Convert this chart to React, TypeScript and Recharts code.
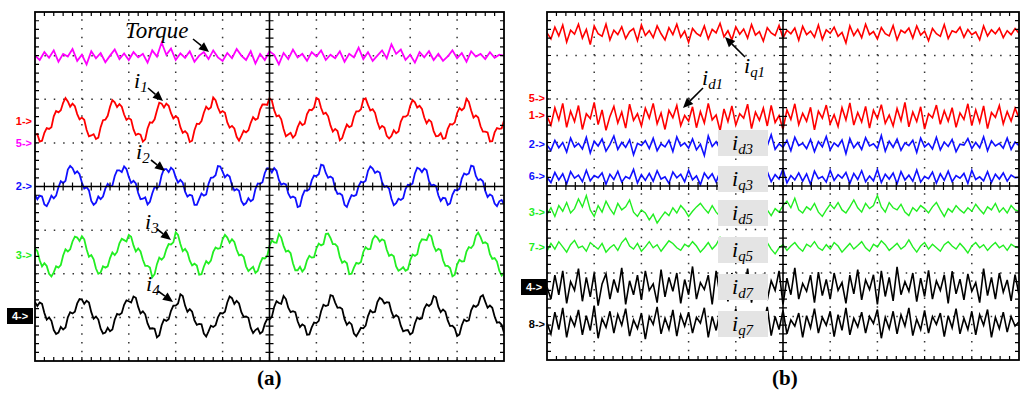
import { LineChart, Line, XAxis, YAxis, ReferenceLine } from 'recharts';

// scope traces, in 1/100 division (8 divisions tall, 10 wide)
const TORQUE = [700,690,708,695,712,686,704,698,715,688,702,680,710,694,706,685,700,714,692,705,690,708,696,704,684,712,698,730,702,716,690,705,695,710,686,700,708,692,712,696,688,706,694,715,700,690,710,682,704,690,710,702,680,706,692,714,696,704,688,708,698,712,690,702,694,710,686,704,696,718,692,708,688,700,712,694,726,704,714,690,702,684,708,696,710,690,704,688,698,712,694,706,686,710,698,704,692,708,695,702,700];
const I1 = [519,520,503,505,523,534,532,536,561,573,570,575,592,603,595,583,590,584,566,554,558,553,530,515,517,520,509,512,536,552,553,562,583,598,593,582,589,583,565,553,557,553,531,518,521,519,503,508,533,547,546,554,574,592,590,581,590,585,568,556,561,557,536,523,527,521,502,505,529,544,543,550,569,583,577,581,604,598,581,569,573,569,547,535,539,533,514,505,516,528,524,529,546,559,553,556,577,588,588,587,602,597,575,561,563,554,532,515,519,523,512,518,536,548,541,544,566,576,575,581,603,600,580,566,569,561,540,526,532,527,506,511,528,542,536,539,560,572,572,577,599,602,587,574,577,569,548,533,539,535,516,510,516,529,522,526,549,560,560,564,585,598,593,581,585,578,558,545,553,548,527,515,516,522,509,511,532,543,542,547,568,580,575,580,601,594,574,558,563,558,538,526,526,524,503,504,524,534,532,533,551];
const I2 = [381,371,379,377,359,355,366,379,373,379,398,412,408,413,439,447,442,430,435,428,409,395,399,391,367,358,363,377,371,377,395,406,400,402,424,437,437,433,446,440,422,408,413,407,385,371,372,375,359,365,384,399,396,401,426,440,440,433,443,438,421,409,415,409,388,377,381,379,358,358,371,384,379,382,406,420,421,426,447,446,434,421,427,423,403,391,394,390,367,358,362,373,366,370,394,407,406,410,431,442,441,432,442,436,415,404,407,405,384,374,377,374,353,355,378,391,390,394,414,425,424,428,450,448,431,420,423,419,395,383,384,380,358,353,368,380,378,381,401,411,409,413,436,446,441,431,435,432,410,399,401,395,372,357,362,372,369,373,394,404,403,407,430,443,440,433,441,437,413,402,404,401,380,367,374,373,358,361,381,392,391,395,418,430,427,430,448,446,424,414,417,412,390,376,382,378,361,355,366,369,360];
const I3 = [258,252,231,217,224,218,200,194,203,217,214,220,242,256,251,256,274,285,283,275,286,279,256,239,243,233,212,200,203,217,214,217,236,249,243,250,270,280,277,274,289,285,265,251,258,251,232,218,218,214,192,199,222,237,232,238,256,268,267,272,295,289,268,252,257,249,230,219,223,219,198,199,216,229,223,230,250,260,257,259,279,289,283,271,279,273,255,242,244,239,217,206,211,216,202,207,224,236,235,240,264,276,272,271,291,283,264,251,253,247,224,208,208,216,205,212,231,241,237,238,258,269,265,268,291,292,282,268,268,262,238,225,229,224,199,200,214,225,223,227,250,261,256,257,279,287,283,274,279,276,255,241,244,240,217,207,210,215,207,210,231,244,241,245,269,279,278,277,290,286,264,252,257,254,231,218,218,213,194,198,221,232,228,229,251,261,259,266,287,294,284,270,272,268,245,234,236,228,207,196,203];
const I4 = [135,126,134,131,110,95,100,92,71,62,65,78,72,77,100,112,109,113,132,142,141,131,138,134,112,97,102,95,74,63,65,76,68,72,95,108,106,110,129,139,137,134,148,145,124,109,114,107,86,74,75,74,54,59,82,95,92,96,115,127,127,132,153,149,127,113,119,113,93,83,85,84,63,56,68,81,78,82,100,110,109,113,134,148,144,131,138,132,112,101,102,99,76,64,71,75,63,67,85,96,95,101,124,137,133,131,149,142,122,112,114,112,91,78,84,80,60,61,77,88,87,92,114,129,126,128,151,149,134,122,123,119,96,83,89,84,63,57,66,76,75,81,103,116,111,113,135,145,141,132,135,134,113,100,105,101,81,68,70,71,61,65,86,100,96,98,120,130,126,131,149,146,124,112,118,113,93,80,81,75,57,61,82,95,91,93,116,127,124,129,147,151,136,122,127,122,102,88,89,83,65];

const IQ1 = [752,738,765,745,770,731,758,749,772,740,760,725,768,750,744,772,736,758,748,766,739,755,762,734,770,746,757,741,768,750,736,764,748,772,742,756,730,762,751,745,768,738,760,752,774,743,757,736,766,749,761,740,771,747,755,733,764,752,746,769,740,758,750,763,735,767,748,756,742,770,737,759,751,765,744,753,729,768,746,760,741,772,748,755,738,764,750,745,769,736,758,752,763,740,768,747,756,734,762,750,744,771,739,757,753,765,742,760,748,754,736,768,745,759,750,763,741,757,748,762,751];
const ID1 = [561,540,580,552,590,535,572,548,585,530,566,555,592,541,575,528,560,583,545,570,533,588,551,566,538,579,556,590,543,568,530,574,557,585,539,562,549,582,534,571,545,590,552,563,527,577,548,584,540,566,556,588,532,570,551,579,538,585,546,562,530,575,553,589,541,567,549,581,529,572,556,586,543,564,537,580,552,591,540,569,547,583,533,574,555,587,544,563,538,578,550,592,536,570,548,582,531,566,557,586,542,573,549,580,535,568,553,589,539,575,546,584,532,569,558,585,543,571,549,579,556];
const ID3 = [494,482,505,488,500,478,510,490,498,485,512,476,503,492,508,480,495,515,484,500,489,506,472,498,493,504,486,510,481,497,490,505,479,513,492,499,487,508,483,496,470,515,491,502,485,507,488,498,480,511,494,503,487,509,476,500,492,518,484,497,489,505,481,512,493,498,486,507,479,502,490,514,483,499,491,506,474,509,488,500,484,511,492,497,486,516,480,503,489,508,482,499,493,505,477,510,490,498,485,512,483,501,491,507,479,496,494,509,486,500,488,513,481,504,492,498,487,510,484,501,493];
const IQ3 = [420,408,431,414,428,405,433,418,425,410,436,412,424,419,430,404,427,415,434,409,422,417,438,407,426,413,429,411,435,416,421,406,432,419,427,410,436,414,423,403,430,417,428,409,434,415,425,412,437,408,421,418,431,405,427,413,433,410,426,416,439,407,424,414,430,411,428,404,434,417,422,409,436,413,426,418,431,406,429,415,435,410,423,412,438,408,427,416,430,405,433,414,425,411,437,409,422,417,432,407,428,413,434,410,424,418,429,406,436,415,421,412,433,408,427,416,430,411,425,419,420];
const ID5 = [335,350,330,355,342,362,338,348,370,352,378,345,330,355,340,365,348,335,360,345,352,368,340,330,345,338,322,335,315,328,340,332,350,338,355,345,330,342,352,360,348,338,355,340,330,348,360,352,338,345,355,342,362,350,340,356,345,332,348,340,355,365,350,372,345,338,352,345,360,340,330,345,358,348,362,345,338,352,368,350,340,360,348,355,378,352,340,362,350,345,358,340,332,350,342,355,348,338,352,362,345,330,348,340,355,345,338,350,342,358,346,336,352,345,360,340,350,338,355,345,342];
const IQ5 = [250,268,255,272,260,248,265,275,258,262,250,270,262,255,268,248,258,265,252,270,280,262,255,268,250,260,272,258,265,250,262,274,268,258,252,266,260,272,262,248,258,270,255,265,282,268,258,262,250,265,272,258,246,255,268,262,270,255,244,258,265,252,262,270,258,250,266,260,272,258,252,265,255,270,262,248,258,268,255,263,272,258,250,266,260,274,265,252,260,268,255,262,276,260,248,262,270,255,266,258,250,265,272,262,255,268,258,246,262,270,258,265,252,262,270,258,264,252,266,260,258];
const ID7 = [168,140,195,150,205,130,180,160,210,135,190,145,200,125,175,198,140,185,155,212,128,182,150,195,138,205,160,175,132,208,145,190,158,200,130,185,150,215,140,178,162,195,128,205,148,188,135,200,165,180,142,210,132,190,155,198,138,182,160,205,128,188,150,212,140,176,158,195,132,202,148,185,140,200,160,178,130,195,152,208,138,184,162,196,128,205,146,190,136,214,150,180,158,200,134,188,146,206,140,182,160,196,130,204,152,186,138,198,158,178,132,210,148,190,140,200,156,184,136,196,150];
const IQ7 = [85,60,110,70,120,52,98,78,115,58,102,68,125,50,95,75,112,62,105,80,118,55,92,72,108,48,100,82,122,60,96,70,115,55,104,78,110,62,98,85,120,52,100,68,112,58,95,76,118,50,105,72,110,64,96,82,122,56,100,70,114,60,92,78,108,52,102,74,118,62,98,80,112,54,104,68,120,58,96,76,110,62,100,84,116,50,98,72,112,60,104,78,120,56,94,70,114,62,100,82,108,54,102,74,118,60,96,70,112,58,104,80,116,52,98,72,110,64,100,78,88];

const RED = '#ff0000';
const BLUE = '#1010ff';
const GREEN = '#22ee22';
const MAGENTA = '#ff00ff';
const BLACK = '#000000';

const TRACES_A = [
  { name: 'torque', values: TORQUE, color: MAGENTA, w: 1.8 },
  { name: 'i1', values: I1, color: RED, w: 1.8 },
  { name: 'i2', values: I2, color: BLUE, w: 1.8 },
  { name: 'i3', values: I3, color: GREEN, w: 1.8 },
  { name: 'i4', values: I4, color: BLACK, w: 1.8 },
];
const TRACES_B = [
  { name: 'iq1', values: IQ1, color: RED, w: 1.6 },
  { name: 'id1', values: ID1, color: RED, w: 1.6 },
  { name: 'id3', values: ID3, color: BLUE, w: 1.6 },
  { name: 'iq3', values: IQ3, color: BLUE, w: 1.6 },
  { name: 'id5', values: ID5, color: GREEN, w: 1.4 },
  { name: 'iq5', values: IQ5, color: GREEN, w: 1.4 },
  { name: 'id7', values: ID7, color: BLACK, w: 1.6 },
  { name: 'iq7', values: IQ7, color: BLACK, w: 1.6 },
];

const GRID_X = [1, 2, 3, 4, 6, 7, 8, 9];
const GRID_Y = [100, 200, 300, 500, 600, 700];

const toPts = (v: number[]) => v.map((y, i) => ({ x: (i / (v.length - 1)) * 10, y }));

function Scope({ left, top, width, height, traces }: any) {
  const plotW = width - 10;
  const plotH = height - 10;
  const dotV = `1.5 ${plotH / 40 - 1.5}`;
  const dotH = `1.5 ${plotW / 50 - 1.5}`;
  return (
    <div style={{ position: 'absolute', left, top }}>
      <LineChart width={width} height={height} margin={{ top: 5, right: 5, bottom: 5, left: 5 }}>
        <XAxis type="number" dataKey="x" domain={[0, 10]} hide allowDataOverflow />
        <YAxis type="number" domain={[0, 800]} hide allowDataOverflow />
        {GRID_X.map(x => (
          <ReferenceLine key={'gx' + x} x={x} stroke="#333" strokeWidth={1.5} strokeDasharray={dotV} />
        ))}
        {GRID_Y.map(y => (
          <ReferenceLine key={'gy' + y} y={y} stroke="#333" strokeWidth={1.5} strokeDasharray={dotH} />
        ))}
        {traces.map((t: any) => (
          <Line key={t.name} data={toPts(t.values)} dataKey="y" type="linear" stroke={t.color}
            strokeWidth={t.w} dot={false} isAnimationActive={false} />
        ))}
      </LineChart>
    </div>
  );
}

// scope frame: border, centre cross and minor ticks (5 per division)
function Frame({ x0, y0, w, h }: any) {
  const L = 4;
  const segs: string[] = [];
  for (let i = 1; i < 50; i++) {
    const x = x0 + (w * i) / 50;
    segs.push(`M${x},${y0}v${L}`, `M${x},${y0 + h}v${-L}`, `M${x},${y0 + h / 2 - L}v${2 * L}`);
  }
  for (let i = 1; i < 40; i++) {
    const y = y0 + (h * i) / 40;
    segs.push(`M${x0},${y}h${L}`, `M${x0 + w},${y}h${-L}`, `M${x0 + w / 2 - L},${y}h${2 * L}`);
  }
  return (
    <g>
      <path d={segs.join('')} stroke="#000" strokeWidth={1.2} fill="none" />
      <rect x={x0} y={y0} width={w} height={h} stroke="#000" strokeWidth={1.8} fill="none" />
      <line x1={x0 + w / 2} y1={y0} x2={x0 + w / 2} y2={y0 + h} stroke="#000" strokeWidth={1.6} />
      <line x1={x0} y1={y0 + h / 2} x2={x0 + w} y2={y0 + h / 2} stroke="#000" strokeWidth={1.6} />
    </g>
  );
}

const CH_A = [
  { text: '1->', color: RED, y: 122 },
  { text: '5->', color: MAGENTA, y: 144 },
  { text: '2->', color: BLUE, y: 187 },
  { text: '3->', color: GREEN, y: 256 },
];
const CH_B = [
  { text: '5->', color: RED, y: 99 },
  { text: '1->', color: RED, y: 116 },
  { text: '2->', color: BLUE, y: 145 },
  { text: '6->', color: BLUE, y: 177 },
  { text: '3->', color: GREEN, y: 213 },
  { text: '7->', color: GREEN, y: 248 },
  { text: '8->', color: BLACK, y: 325 },
];
const BOXES = [
  { sub: 'd3', y: 130 },
  { sub: 'q3', y: 166 },
  { sub: 'd5', y: 200 },
  { sub: 'q5', y: 237 },
  { sub: 'd7', y: 274 },
  { sub: 'q7', y: 311 },
];

const serif = '"Liberation Serif", "DejaVu Serif", serif';
const sans = '"Liberation Sans", Arial, sans-serif';

function ChLabel({ text, color, y, right }: any) {
  return (
    <div style={{ position: 'absolute', left: right - 30, width: 30, top: y - 7, height: 14, lineHeight: '14px',
      textAlign: 'right', font: `bold 11px ${sans}`, color }}>{text}</div>
  );
}

function BoxLabel({ left, y }: any) {
  return (
    <div style={{ position: 'absolute', left, top: y - 9, width: 26, height: 16, background: '#000',
      color: '#fff', font: `bold 11px ${sans}`, lineHeight: '16px', textAlign: 'center' }}>4-&gt;</div>
  );
}

function Sym({ left, top, sub, size = 22 }: any) {
  return (
    <div style={{ position: 'absolute', left, top, font: `italic ${size}px ${serif}`, lineHeight: 1, whiteSpace: 'nowrap' }}>
      i<span style={{ fontSize: '0.68em', position: 'relative', top: '0.3em' }}>{sub}</span>
    </div>
  );
}

function Arrow({ x1, y1, x2, y2 }: any) {
  const a = Math.atan2(y2 - y1, x2 - x1);
  const L = 10, w = 4.5;
  const bx = x2 - L * Math.cos(a), by = y2 - L * Math.sin(a);
  const pts = `${x2},${y2} ${bx + w * Math.sin(a)},${by - w * Math.cos(a)} ${bx - w * Math.sin(a)},${by + w * Math.cos(a)}`;
  return (
    <g>
      <line x1={x1} y1={y1} x2={bx} y2={by} stroke="#000" strokeWidth={1.6} />
      <polygon points={pts} fill="#000" />
    </g>
  );
}

export default function App() {
  return (
    <div style={{ position: 'absolute', left: 0, top: 0, width: 1024, height: 395, background: '#fff', overflow: 'hidden' }}>
      <Scope left={30} top={7} width={479} height={359} traces={TRACES_A} />
      <Scope left={542} top={7} width={482} height={358} traces={TRACES_B} />

      <svg width={1024} height={395} style={{ position: 'absolute', left: 0, top: 0, pointerEvents: 'none' }}>
        <Frame x0={35} y0={12} w={469} h={349} />
        <Frame x0={547} y0={12} w={472} h={348} />
      </svg>

      {BOXES.map(b => (
        <div key={b.sub} style={{ position: 'absolute', left: 718, top: b.y, width: 50, height: 26, background: '#e4e4e4' }}>
          <Sym left={14} top={2} sub={b.sub} size={22} />
        </div>
      ))}

      {CH_A.map(c => <ChLabel key={c.text} {...c} right={32} />)}
      <BoxLabel left={7} y={317} />
      {CH_B.map(c => <ChLabel key={c.text + c.y} {...c} right={545} />)}
      <BoxLabel left={521} y={288} />

      <div style={{ position: 'absolute', left: 125, top: 19, font: `italic 23px ${serif}`, lineHeight: 1 }}>Torque</div>
      <Sym left={134} top={70} sub="1" />
      <Sym left={136} top={141} sub="2" />
      <Sym left={145} top={211} sub="3" />
      <Sym left={146} top={273} sub="4" />
      <Sym left={744} top={55} sub="q1" />
      <Sym left={702} top={67} sub="d1" />

      <svg width={1024} height={395} style={{ position: 'absolute', left: 0, top: 0, pointerEvents: 'none' }}>
        <Arrow x1={193} y1={39} x2={209} y2={52} />
        <Arrow x1={148} y1={88} x2={163} y2={101} />
        <Arrow x1={151} y1={160} x2={165} y2={171} />
        <Arrow x1={157} y1={229} x2={171} y2={240} />
        <Arrow x1={158} y1={291} x2={173} y2={302} />
        <Arrow x1={745} y1={57} x2={725} y2={37} />
        <Arrow x1={703} y1={88} x2={683} y2={108} />
      </svg>

      <div style={{ position: 'absolute', left: 257, top: 368, font: `bold 21px ${serif}`, lineHeight: 1 }}>(a)</div>
      <div style={{ position: 'absolute', left: 772, top: 368, font: `bold 21px ${serif}`, lineHeight: 1 }}>(b)</div>
    </div>
  );
}
